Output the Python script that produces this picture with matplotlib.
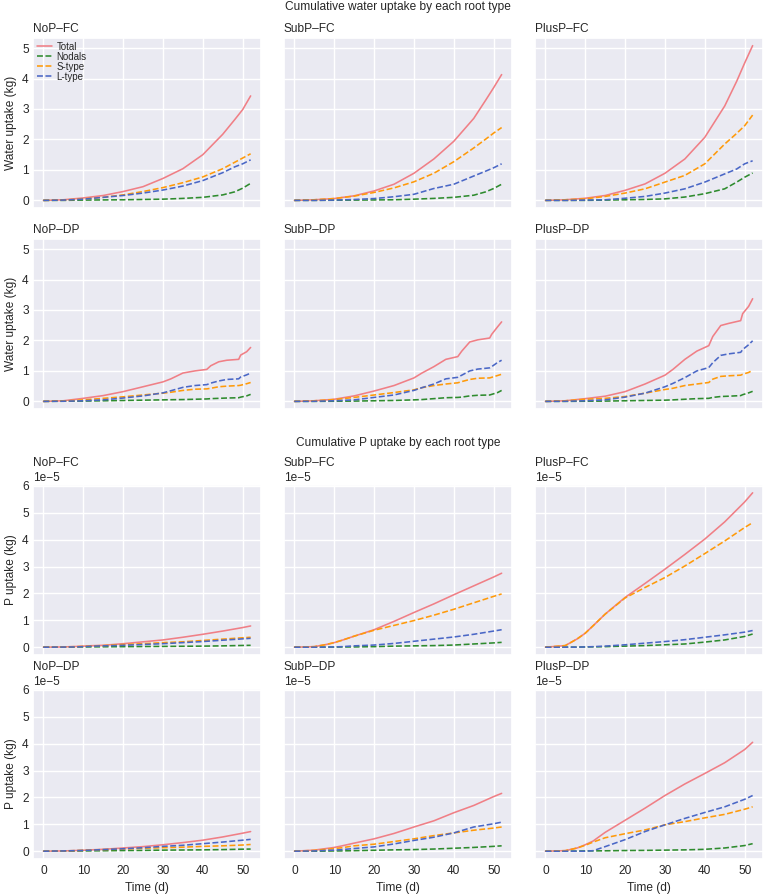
import numpy as np
import matplotlib.pyplot as plt
import seaborn as sns

sns.set_theme(style="darkgrid")
plt.rcParams['font.family'] = ['Liberation Sans', 'DejaVu Sans']
plt.rcParams.update({
    'xtick.major.size': 0, 'ytick.major.size': 0,
    'xtick.major.pad': 4, 'ytick.major.pad': 3,
    'axes.labelsize': 8.6, 'axes.titlesize': 8.6,
    'xtick.labelsize': 8.6, 'ytick.labelsize': 8.6,
})

# time axes (days)
tw_fc = [0, 5, 10, 15, 20, 25, 30, 35, 40, 45, 48, 50, 52]
tw_dp = [0, 5, 10, 15, 20, 25, 30, 32, 35, 38, 41, 42, 44, 46, 49, 49.5, 51, 52]
tp = [0, 5, 8, 10, 12, 15, 20, 25, 30, 35, 40, 45, 50, 52]

# cumulative water uptake (kg): total, nodals, s-type, l-type
w_nop_fc_total = [0, 0.02, 0.08, 0.16, 0.29, 0.45, 0.72, 1.04, 1.5, 2.17, 2.65, 2.98, 3.43]
w_nop_fc_nod = [0, 0, 0.01, 0.015, 0.02, 0.03, 0.04, 0.065, 0.1, 0.18, 0.28, 0.4, 0.56]
w_nop_fc_s = [0, 0.01, 0.05, 0.1, 0.18, 0.29, 0.42, 0.58, 0.77, 1.04, 1.25, 1.39, 1.53]
w_nop_fc_l = [0, 0.01, 0.04, 0.1, 0.16, 0.24, 0.34, 0.47, 0.65, 0.91, 1.1, 1.2, 1.33]

w_sub_fc_total = [0, 0.02, 0.06, 0.15, 0.31, 0.53, 0.89, 1.36, 1.94, 2.69, 3.29, 3.7, 4.13]
w_sub_fc_nod = [0, 0, 0.005, 0.01, 0.015, 0.02, 0.04, 0.065, 0.1, 0.17, 0.28, 0.39, 0.53]
w_sub_fc_s = [0, 0.02, 0.06, 0.14, 0.26, 0.41, 0.61, 0.89, 1.27, 1.72, 2.01, 2.21, 2.39]
w_sub_fc_l = [0, 0, 0.01, 0.03, 0.06, 0.12, 0.2, 0.39, 0.53, 0.8, 0.96, 1.07, 1.2]

w_plus_fc_total = [0, 0.02, 0.07, 0.16, 0.33, 0.54, 0.89, 1.36, 2.07, 3.1, 3.91, 4.51, 5.08]
w_plus_fc_nod = [0, 0, 0, 0.01, 0.02, 0.03, 0.05, 0.11, 0.22, 0.38, 0.6, 0.76, 0.9]
w_plus_fc_s = [0, 0.02, 0.05, 0.13, 0.24, 0.38, 0.6, 0.82, 1.2, 1.85, 2.2, 2.45, 2.8]
w_plus_fc_l = [0, 0, 0.01, 0.02, 0.07, 0.13, 0.24, 0.38, 0.6, 0.87, 1.03, 1.2, 1.3]

w_nop_dp_total = [0, 0.02, 0.1, 0.19, 0.32, 0.48, 0.64, 0.74, 0.93, 1.0, 1.05, 1.17, 1.3, 1.35, 1.38, 1.52, 1.63, 1.77]
w_nop_dp_nod = [0, 0.005, 0.01, 0.02, 0.03, 0.04, 0.05, 0.055, 0.06, 0.07, 0.08, 0.09, 0.1, 0.11, 0.12, 0.14, 0.18, 0.23]
w_nop_dp_s = [0, 0.01, 0.05, 0.1, 0.15, 0.21, 0.27, 0.3, 0.36, 0.4, 0.41, 0.43, 0.48, 0.5, 0.52, 0.53, 0.58, 0.62]
w_nop_dp_l = [0, 0.005, 0.02, 0.05, 0.11, 0.18, 0.28, 0.35, 0.46, 0.52, 0.55, 0.6, 0.67, 0.72, 0.74, 0.8, 0.87, 0.93]

w_sub_dp_total = [0, 0.02, 0.07, 0.18, 0.34, 0.52, 0.77, 0.93, 1.14, 1.38, 1.47, 1.65, 1.95, 2.02, 2.08, 2.2, 2.45, 2.61]
w_sub_dp_nod = [0, 0, 0.005, 0.01, 0.02, 0.03, 0.05, 0.06, 0.09, 0.12, 0.13, 0.14, 0.18, 0.2, 0.21, 0.23, 0.29, 0.36]
w_sub_dp_s = [0, 0.02, 0.06, 0.13, 0.21, 0.29, 0.38, 0.45, 0.52, 0.57, 0.61, 0.65, 0.72, 0.76, 0.77, 0.79, 0.85, 0.89]
w_sub_dp_l = [0, 0.005, 0.02, 0.05, 0.13, 0.21, 0.36, 0.45, 0.57, 0.74, 0.79, 0.86, 1.0, 1.06, 1.1, 1.14, 1.28, 1.35]

w_plus_dp_total = [0, 0.02, 0.09, 0.17, 0.32, 0.57, 0.86, 1.05, 1.38, 1.65, 1.83, 2.13, 2.49, 2.56, 2.65, 2.88, 3.12, 3.37]
w_plus_dp_nod = [0, 0, 0.005, 0.01, 0.02, 0.03, 0.04, 0.05, 0.07, 0.09, 0.1, 0.13, 0.16, 0.17, 0.19, 0.22, 0.28, 0.33]
w_plus_dp_s = [0, 0.02, 0.07, 0.1, 0.16, 0.27, 0.39, 0.43, 0.52, 0.57, 0.62, 0.73, 0.82, 0.84, 0.86, 0.89, 0.95, 1.02]
w_plus_dp_l = [0, 0.005, 0.02, 0.05, 0.14, 0.27, 0.48, 0.59, 0.78, 1.0, 1.11, 1.27, 1.51, 1.56, 1.61, 1.7, 1.86, 1.99]

# cumulative P uptake (1e-5 kg)
p_nop_fc_total = [0, 0.01, 0.025, 0.04, 0.055, 0.07, 0.13, 0.2, 0.27, 0.37, 0.48, 0.6, 0.73, 0.79]
p_nop_fc_nod = [0, 0.002, 0.005, 0.01, 0.012, 0.015, 0.02, 0.025, 0.03, 0.035, 0.04, 0.05, 0.065, 0.07]
p_nop_fc_s = [0, 0.01, 0.02, 0.03, 0.045, 0.06, 0.1, 0.13, 0.17, 0.2, 0.25, 0.3, 0.35, 0.37]
p_nop_fc_l = [0, 0.005, 0.01, 0.02, 0.035, 0.05, 0.07, 0.1, 0.13, 0.17, 0.21, 0.26, 0.31, 0.33]

p_sub_fc_total = [0, 0.02, 0.1, 0.17, 0.26, 0.41, 0.65, 0.96, 1.29, 1.61, 1.95, 2.28, 2.61, 2.75]
p_sub_fc_nod = [0, 0, 0.003, 0.005, 0.008, 0.01, 0.02, 0.04, 0.05, 0.06, 0.08, 0.12, 0.16, 0.18]
p_sub_fc_s = [0, 0.02, 0.1, 0.17, 0.26, 0.41, 0.63, 0.81, 0.99, 1.19, 1.41, 1.65, 1.89, 1.98]
p_sub_fc_l = [0, 0, 0.005, 0.01, 0.02, 0.05, 0.08, 0.14, 0.22, 0.3, 0.38, 0.48, 0.6, 0.65]

p_plus_fc_total = [0, 0.06, 0.31, 0.52, 0.8, 1.23, 1.85, 2.37, 2.9, 3.45, 4.02, 4.66, 5.4, 5.74]
p_plus_fc_nod = [0, 0, 0.003, 0.01, 0.013, 0.02, 0.04, 0.06, 0.09, 0.12, 0.19, 0.27, 0.4, 0.49]
p_plus_fc_s = [0, 0.06, 0.31, 0.52, 0.8, 1.23, 1.83, 2.22, 2.59, 3.02, 3.48, 3.95, 4.45, 4.63]
p_plus_fc_l = [0, 0, 0.003, 0.01, 0.02, 0.04, 0.09, 0.15, 0.21, 0.28, 0.37, 0.46, 0.56, 0.62]

p_nop_dp_total = [0, 0.01, 0.025, 0.035, 0.05, 0.07, 0.12, 0.17, 0.24, 0.32, 0.41, 0.53, 0.67, 0.73]
p_nop_dp_nod = [0, 0.003, 0.007, 0.01, 0.013, 0.017, 0.025, 0.03, 0.04, 0.045, 0.05, 0.06, 0.075, 0.08]
p_nop_dp_s = [0, 0.01, 0.02, 0.035, 0.045, 0.06, 0.08, 0.11, 0.13, 0.15, 0.18, 0.2, 0.23, 0.25]
p_nop_dp_l = [0, 0.01, 0.02, 0.03, 0.04, 0.06, 0.09, 0.13, 0.18, 0.22, 0.28, 0.34, 0.41, 0.44]

p_sub_dp_total = [0, 0.04, 0.1, 0.14, 0.2, 0.3, 0.46, 0.66, 0.9, 1.13, 1.43, 1.7, 2.03, 2.15]
p_sub_dp_nod = [0, 0, 0.005, 0.01, 0.012, 0.02, 0.035, 0.05, 0.06, 0.08, 0.11, 0.14, 0.18, 0.2]
p_sub_dp_s = [0, 0.03, 0.07, 0.1, 0.13, 0.2, 0.26, 0.36, 0.46, 0.58, 0.68, 0.78, 0.86, 0.9]
p_sub_dp_l = [0, 0.01, 0.03, 0.04, 0.06, 0.1, 0.16, 0.27, 0.4, 0.52, 0.68, 0.9, 1.02, 1.08]

p_plus_dp_total = [0, 0.02, 0.12, 0.24, 0.38, 0.7, 1.15, 1.6, 2.07, 2.5, 2.89, 3.29, 3.78, 4.05]
p_plus_dp_nod = [0, 0, 0.005, 0.01, 0.012, 0.015, 0.025, 0.03, 0.04, 0.05, 0.07, 0.12, 0.21, 0.28]
p_plus_dp_s = [0, 0.02, 0.12, 0.22, 0.34, 0.5, 0.65, 0.79, 0.98, 1.1, 1.24, 1.37, 1.56, 1.65]
p_plus_dp_l = [0, 0, 0, 0, 0.02, 0.17, 0.43, 0.73, 0.98, 1.22, 1.44, 1.65, 1.93, 2.07]

labels = ['Total', 'Nodals', 'S-type', 'L-type']
colors = ['#f07f86', '#2e8b2e', '#ff9a0a', '#4a67c6']
styles = ['-', '--', '--', '--']

water = [
    [(tw_fc, [w_nop_fc_total, w_nop_fc_nod, w_nop_fc_s, w_nop_fc_l]),
     (tw_fc, [w_sub_fc_total, w_sub_fc_nod, w_sub_fc_s, w_sub_fc_l]),
     (tw_fc, [w_plus_fc_total, w_plus_fc_nod, w_plus_fc_s, w_plus_fc_l])],
    [(tw_dp, [w_nop_dp_total, w_nop_dp_nod, w_nop_dp_s, w_nop_dp_l]),
     (tw_dp, [w_sub_dp_total, w_sub_dp_nod, w_sub_dp_s, w_sub_dp_l]),
     (tw_dp, [w_plus_dp_total, w_plus_dp_nod, w_plus_dp_s, w_plus_dp_l])],
]
phos = [
    [(tp, [p_nop_fc_total, p_nop_fc_nod, p_nop_fc_s, p_nop_fc_l]),
     (tp, [p_sub_fc_total, p_sub_fc_nod, p_sub_fc_s, p_sub_fc_l]),
     (tp, [p_plus_fc_total, p_plus_fc_nod, p_plus_fc_s, p_plus_fc_l])],
    [(tp, [p_nop_dp_total, p_nop_dp_nod, p_nop_dp_s, p_nop_dp_l]),
     (tp, [p_sub_dp_total, p_sub_dp_nod, p_sub_dp_s, p_sub_dp_l]),
     (tp, [p_plus_dp_total, p_plus_dp_nod, p_plus_dp_s, p_plus_dp_l])],
]
treat = ['NoP', 'SubP', 'PlusP']
soil = ['FC', 'DP']

W, H = 764, 896
fig = plt.figure(figsize=(W / 100, H / 100), dpi=100)
lefts = [33, 284, 535]
tops = [38, 239, 485, 689]
aw, ah = 228, 170

for block, data, scale, ylab, ylim, yt in [
        (0, water, 1, 'Water uptake (kg)', (-0.25, 5.33), np.arange(0, 6)),
        (1, phos, 1e-5, 'P uptake (kg)', (-0.29e-5, 6.03e-5), np.arange(0, 7) * 1e-5)]:
    for r in range(2):
        for c in range(3):
            top = tops[block * 2 + r]
            ax = fig.add_axes([lefts[c] / W, 1 - (top + ah) / H, aw / W, ah / H])
            t, ys = data[r][c]
            for y, lab, col, ls in zip(ys, labels, colors, styles):
                ax.plot(t, np.array(y) * scale, ls, color=col, lw=1.15, label=lab)
            ax.set_xlim(-2.6, 54.6)
            ax.set_ylim(*ylim)
            ax.set_xticks([0, 10, 20, 30, 40, 50])
            ax.set_yticks(yt)
            title = f'{treat[c]}–{soil[r]}'
            if c == 0:
                ax.set_ylabel(ylab)
                ax.set_title(title, loc='left', pad=4)
            else:
                ax.tick_params(labelleft=False)
                if block == 1:
                    # shared scale, keep the offset label on every panel
                    ax.annotate('1e−5', xy=(0, 1), xycoords='axes fraction',
                                xytext=(0, 3), textcoords='offset points',
                                ha='left', va='baseline', fontsize=8.6)
                    ax.set_title(title, loc='left', pad=14)
                else:
                    ax.set_title(title, loc='left', pad=4)
            if block == 1 and r == 1:
                ax.set_xlabel('Time (d)')
            else:
                ax.tick_params(labelbottom=False)
            if block == 0 and r == 0 and c == 0:
                ax.legend(loc='upper left', frameon=False, fontsize=7,
                          labelspacing=0.0, handlelength=1.6, handletextpad=0.4,
                          borderaxespad=0.1, borderpad=0.3)

fig.text(398 / W, 1 - 7 / H, 'Cumulative water uptake by each root type',
         ha='center', va='center', fontsize=8.6)
fig.text(398 / W, 1 - 443 / H, 'Cumulative P uptake by each root type',
         ha='center', va='center', fontsize=8.6)

fig.savefig('out.png', dpi=100)
